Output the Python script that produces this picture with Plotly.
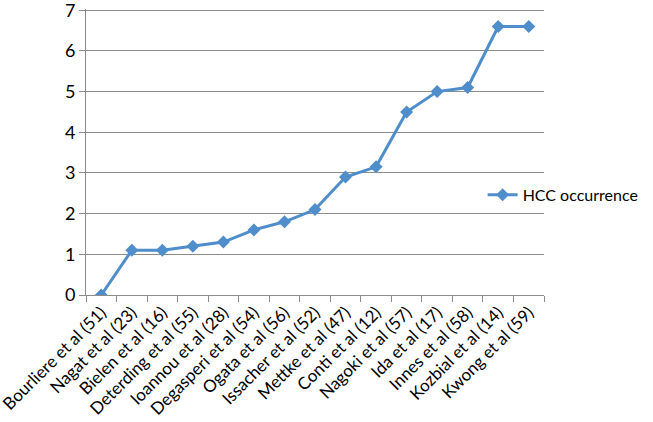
import plotly.graph_objects as go

studies = ["Bourliere et al (51)", "Nagat et al (23)", "Bielen et al (16)", "Deterding et al (55)",
           "Ioannou et al (28)", "Degasperi et al (54)", "Ogata et al (56)", "Issacher et al (52)",
           "Mettke et al (47)", "Conti et al (12)", "Nagoki et al (57)", "Ida et al (17)",
           "Innes et al (58)", "Kozbial et al (14)", "Kwong et al (59)"]
hcc_occurrence = [0, 1.1, 1.1, 1.2, 1.3, 1.6, 1.8, 2.1, 2.9, 3.15, 4.5, 5.0, 5.1, 6.6, 6.6]
y_ticks = [0, 1, 2, 3, 4, 5, 6, 7]

FONT = "Lato, Calibri, Carlito, sans-serif"
LINE = "#4F8DCB"
GRID = "#8C8C8C"

fig = go.Figure()
fig.add_trace(go.Scatter(
    x=studies, y=hcc_occurrence, mode="lines+markers", name="HCC occurrence",
    line=dict(color=LINE, width=3),
    marker=dict(symbol="diamond", size=10, color=LINE),
))

fig.update_layout(
    width=653, height=422,
    margin=dict(l=86, r=105, t=9, b=127),
    paper_bgcolor="white", plot_bgcolor="white",
    font=dict(family=FONT, size=17, color="#000000"),
    showlegend=True,
    legend=dict(x=0.866, xanchor="left", y=0.35, yanchor="middle",
                font=dict(family=FONT, size=16, color="#000000"),
                bgcolor="rgba(0,0,0,0)", itemwidth=30),
    xaxis=dict(type="category", range=[-0.5, len(studies) - 0.5], automargin=False,
               tickangle=-45, tickson="boundaries", ticks="outside", ticklen=6,
               tickcolor=GRID, showline=True, linecolor=GRID, linewidth=1,
               showgrid=False, tickfont=dict(family=FONT, size=17, color="#000000")),
    yaxis=dict(range=[0, 7.03], tickvals=y_ticks, ticktext=[str(v) for v in y_ticks],
               automargin=False, ticklabeloverflow="allow", ticks="outside", ticklen=6,
               tickcolor=GRID, showline=True, linecolor=GRID, linewidth=1,
               showgrid=True, gridcolor=GRID, gridwidth=1, zeroline=False,
               tickfont=dict(family=FONT, size=18, color="#000000")),
)

fig.write_html("out.html", config={"displayModeBar": False},
               post_script="document.body.style.margin='0';")
